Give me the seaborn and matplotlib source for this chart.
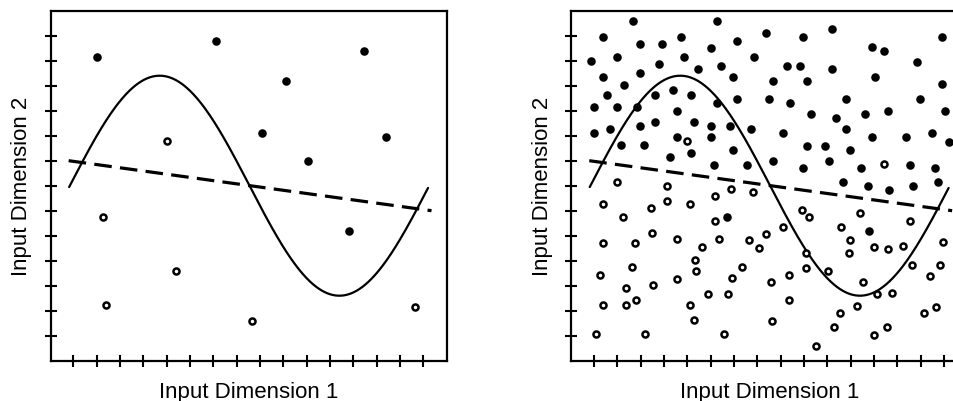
import numpy as np
import matplotlib
matplotlib.use("Agg")
import matplotlib.pyplot as plt
import seaborn as sns

sns.set_theme(style="white")
plt.rcParams['font.family'] = ['Liberation Sans', 'DejaVu Sans']

# ---------------- data ----------------
# left panel (few samples)
left_pos_x = [2.0, 7.12, 13.46, 10.12, 9.1, 14.39, 11.07, 12.8]
left_pos_y = [12.14, 12.8, 12.4, 11.2, 9.1, 8.96, 7.99, 5.2]
left_neg_x = [5.0, 2.26, 5.4, 2.39, 8.67, 15.65]
left_neg_y = [8.8, 5.74, 3.6, 2.24, 1.59, 2.14]

# right panel (many samples)
right_pos_x = [2.68, 6.28, 1.40, 2.97, 3.93, 4.72, 6.00, 7.13, 0.86, 2.00, 4.84, 7.87,
               1.40, 2.97, 3.77, 5.44, 6.43, 6.97, 2.29, 1.56, 3.61, 4.40, 5.16, 7.13,
               6.28, 1.0, 2.0, 2.83, 4.54, 1.0, 1.70, 2.97, 3.61, 5.30, 6.00, 6.83,
               7.72, 2.14, 3.13, 4.54, 6.00, 5.16, 6.97, 4.26, 6.14, 7.57, 6.69,
               8.36, 9.97, 11.21, 15.92, 12.92, 13.44, 9.26, 9.83, 11.21, 14.83, 8.66,
               10.13, 13.06, 15.92, 8.51, 9.40, 11.81, 14.97, 10.29, 11.37, 12.60, 13.59,
               16.06, 9.10, 11.81, 12.90, 14.37, 15.47, 16.21, 10.13, 10.91, 11.96, 8.66,
               9.97, 11.07, 12.46, 14.53, 15.62, 11.67, 12.74, 13.63, 14.67, 15.76, 12.79]
right_pos_y = [13.6, 13.6, 12.96, 12.67, 12.67, 12.96, 12.51, 12.8, 12.0, 12.15, 12.15, 12.14,
               11.35, 11.51, 11.86, 11.66, 11.8, 11.35, 11.04, 10.64, 10.64, 10.82, 10.64, 10.46,
               10.30, 10.15, 10.15, 10.15, 10.0, 9.10, 9.26, 9.4, 9.55, 9.55, 9.4, 9.4,
               9.26, 8.64, 8.64, 8.96, 8.96, 8.30, 8.44, 8.15, 7.84, 7.84, 5.74,
               13.10, 12.96, 13.26, 12.96, 12.55, 12.4, 11.8, 11.8, 11.66, 11.96, 11.2,
               11.2, 11.35, 11.06, 10.46, 10.30, 10.46, 10.46, 9.86, 9.71, 9.86, 10.0,
               10.0, 9.10, 9.26, 8.96, 8.96, 9.10, 8.75, 8.6, 8.6, 8.44, 8.0,
               7.70, 8.0, 7.70, 7.84, 7.70, 7.16, 7.0, 6.84, 7.0, 7.16, 5.19]
right_neg_x = [4.97, 13.44, 2.0, 4.14, 6.17, 6.87, 7.83, 1.40, 4.14, 5.10, 3.43, 2.23,
               6.19, 3.47, 1.40, 2.74, 4.57, 6.37, 7.63, 5.63, 8.07, 5.33, 2.64, 5.38,
               7.33, 1.24, 4.57, 3.54, 6.91, 2.36, 5.87, 6.73, 1.40, 2.38, 2.80, 5.10,
               5.27, 1.10, 3.20, 6.57,
               9.93, 10.23, 12.39, 14.53, 9.09, 11.59, 8.36, 11.97, 12.99, 13.60, 14.23,
               15.97, 10.09, 11.92, 14.63, 15.83, 10.07, 11.02, 9.36, 15.41, 8.60, 12.54,
               13.14, 13.77, 9.37, 12.27, 11.54, 15.16, 15.66, 8.64, 11.27, 13.56, 13.0, 10.50]
right_neg_y = [8.8, 7.86, 7.14, 7.0, 6.6, 6.87, 6.74, 6.27, 6.38, 6.27, 6.11, 5.74,
               5.59, 5.11, 4.70, 4.70, 4.86, 4.86, 4.84, 4.56, 4.51, 4.03, 3.74, 3.59,
               3.76, 3.43, 3.27, 3.03, 3.30, 2.90, 2.67, 2.67, 2.24, 2.24, 2.44, 2.23,
               1.63, 1.06, 1.06, 1.06,
               6.04, 5.74, 5.91, 5.6, 5.35, 5.34, 5.07, 4.84, 4.55, 4.46, 4.58,
               4.75, 4.32, 4.31, 3.83, 3.83, 3.70, 3.59, 3.43, 3.38, 3.16, 3.16,
               2.66, 2.70, 2.43, 2.19, 1.90, 1.92, 2.15, 1.58, 1.36, 1.35, 1.04, 0.60]

# linear boundary (dashed): two end points
linear_x = [0.8, 16.35]
linear_y = [8.0, 6.0]

# sinusoidal boundary (solid)
curve_start, curve_end = 0.82, 16.2
curve_center, curve_amp = 7.0, 4.4
curve_period, curve_phase = 15.4, 0.85

x_ticks = list(range(1, 17))
y_ticks = list(range(1, 14))

# ---------------- figure ----------------
W, H = 954, 402
fig = plt.figure(figsize=(W / 100, H / 100), dpi=100)
ax_l = fig.add_axes([50.7 / W, 40.3 / H, 396 / W, 350 / H])
ax_r = fig.add_axes([571.3 / W, 40.3 / H, 396 / W, 350 / H])

cx = np.linspace(curve_start, curve_end, 400)
cy = curve_center + curve_amp * np.sin(2 * np.pi * (cx - curve_phase) / curve_period)


def draw(ax, px, py, nx, ny):
    sns.lineplot(x=cx, y=cy, ax=ax, color='black', linewidth=1.6,
                 sort=False, estimator=None)
    sns.lineplot(x=linear_x, y=linear_y, ax=ax, color='black', linewidth=2.3,
                 sort=False, estimator=None)
    ax.lines[-1].set_dashes([5.5, 2.6])
    sns.scatterplot(x=px, y=py, ax=ax, color='black', s=38, linewidth=0, zorder=3)
    sns.scatterplot(x=nx, y=ny, ax=ax, color='white', edgecolor='black',
                    s=19, linewidth=1.8, zorder=3)
    ax.set_xlim(0.03, 17.0)
    ax.set_ylim(0, 14)
    ax.set_xticks(x_ticks)
    ax.set_yticks(y_ticks)
    ax.tick_params(bottom=True, left=True, direction='inout', length=9, width=1.5,
                   color='black', labelbottom=False, labelleft=False)
    for sp in ax.spines.values():
        sp.set_visible(True)
        sp.set_color('black')
        sp.set_linewidth(1.6)
    ax.set_xlabel('Input Dimension 1', fontsize=16, color='black')
    ax.set_ylabel('Input Dimension 2', fontsize=16, color='black')
    ax.xaxis.set_label_coords(0.5, -0.058)
    ax.yaxis.set_label_coords(-0.046, 0.5)


draw(ax_l, left_pos_x, left_pos_y, left_neg_x, left_neg_y)
draw(ax_r, right_pos_x, right_pos_y, right_neg_x, right_neg_y)

fig.savefig('out.png', dpi=100)
